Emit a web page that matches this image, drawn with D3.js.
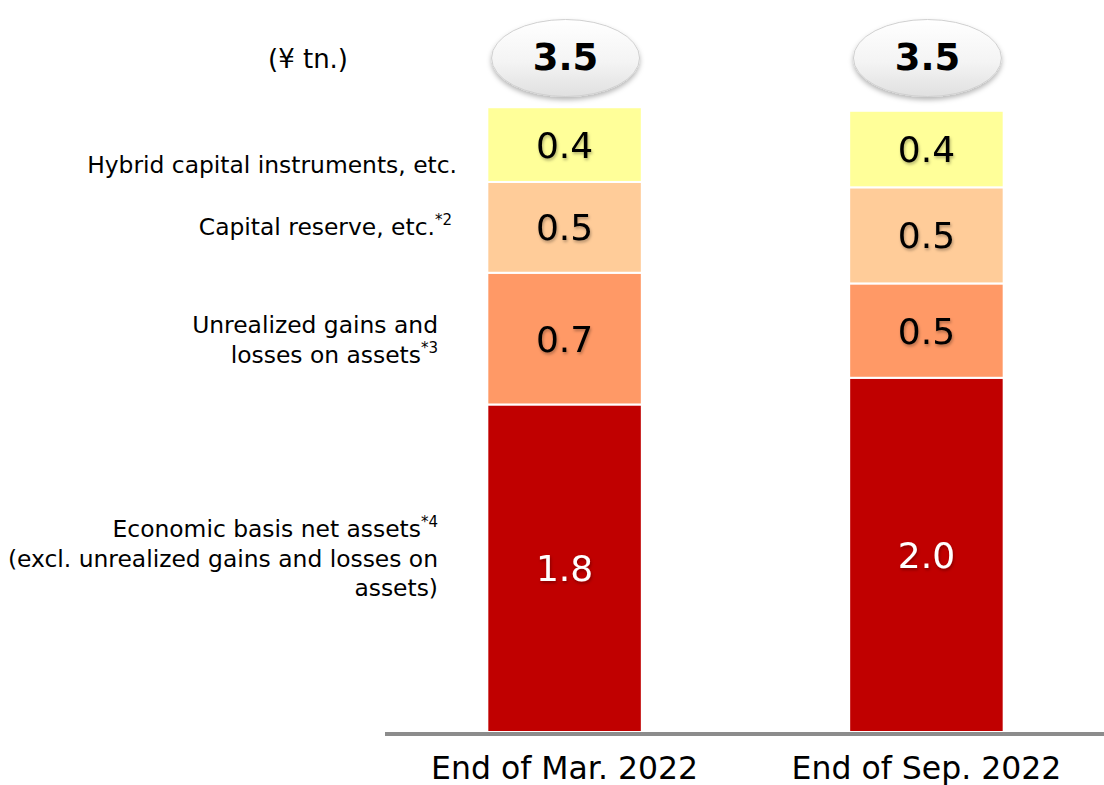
<!DOCTYPE html>
<html>
<head>
<meta charset="utf-8">
<script src="https://cdn.jsdelivr.net/npm/d3@7"></script>
<style>
  html, body { margin: 0; padding: 0; background: #fff; }
  svg { display: block; font-family: "DejaVu Sans", Verdana, sans-serif; }
</style>
</head>
<body>
<svg id="chart" width="1104" height="785"></svg>
<script>
// Capital breakdown, ¥ trillion
const categories = ["End of Mar. 2022", "End of Sep. 2022"];
const economicNetAssets = [1.84, 1.99];
const unrealizedGains = [0.74, 0.53];
const capitalReserve = [0.51, 0.54];
const hybridCapital = [0.42, 0.43];

const seriesKeys = ["economic", "unrealized", "reserve", "hybrid"];
const seriesColors = ["#C00000", "#FF9966", "#FFCC99", "#FFFF99"];
const seriesLabelColors = ["#ffffff", "#000000", "#000000", "#000000"];
const unitLabel = "(¥ tn.)";

// left-hand descriptions: lines and the footnote mark
const seriesNames = [
  { key: "hybrid", lines: ["Hybrid capital instruments, etc."], note: "" },
  { key: "reserve", lines: ["Capital reserve, etc."], note: "*2" },
  { key: "unrealized", lines: ["Unrealized gains and", "losses on assets"], note: "*3" },
  { key: "economic", lines: ["Economic basis net assets", "(excl. unrealized gains and losses on", "assets)"], note: "*4", noteLine: 0 }
];

const rows = categories.map((c, i) => ({
  category: c,
  economic: economicNetAssets[i],
  unrealized: unrealizedGains[i],
  reserve: capitalReserve[i],
  hybrid: hybridCapital[i]
}));

const svg = d3.select("#chart");
const defs = svg.append("defs");

const shadow = defs.append("filter").attr("id", "txtShadow")
  .attr("x", "-20%").attr("y", "-20%").attr("width", "140%").attr("height", "160%");
shadow.append("feDropShadow").attr("dx", 1).attr("dy", 2).attr("stdDeviation", 1.6)
  .attr("flood-color", "#000").attr("flood-opacity", 0.3);

const ovalShadow = defs.append("filter").attr("id", "ovalShadow")
  .attr("x", "-20%").attr("y", "-30%").attr("width", "140%").attr("height", "170%");
ovalShadow.append("feDropShadow").attr("dx", 0).attr("dy", 3).attr("stdDeviation", 2.5)
  .attr("flood-color", "#000").attr("flood-opacity", 0.28);

const grad = defs.append("linearGradient").attr("id", "ovalFill")
  .attr("x1", 0).attr("y1", 0).attr("x2", 0).attr("y2", 1);
grad.append("stop").attr("offset", "0%").attr("stop-color", "#ffffff");
grad.append("stop").attr("offset", "55%").attr("stop-color", "#f4f4f4");
grad.append("stop").attr("offset", "100%").attr("stop-color", "#e0e0e0");

const x = d3.scaleBand()
  .domain(categories)
  .range([386, 1105])
  .paddingInner(0.573)
  .paddingOuter(0.28);

const y = d3.scaleLinear()
  .domain([0, 3.5])
  .range([732, 109]);

const stack = d3.stack().keys(seriesKeys);
const stacked = stack(rows);
const fmt = d3.format(".1f");

// stacked segments
const layers = svg.append("g").selectAll("g")
  .data(stacked)
  .join("g")
  .attr("fill", (d, i) => seriesColors[i]);

layers.selectAll("rect")
  .data(d => d)
  .join("rect")
  .attr("x", d => x(d.data.category))
  .attr("width", x.bandwidth())
  .attr("y", d => y(d[1]))
  .attr("height", d => y(d[0]) - y(d[1]))
  .attr("stroke", "#ffffff")
  .attr("stroke-width", 2);

// segment values
stacked.forEach((layer, i) => {
  svg.append("g").selectAll("text")
    .data(layer)
    .join("text")
    .attr("x", d => x(d.data.category) + x.bandwidth() / 2)
    .attr("y", d => (y(d[0]) + y(d[1])) / 2)
    .attr("dy", "0.36em")
    .attr("text-anchor", "middle")
    .attr("font-size", 36)
    .attr("fill", seriesLabelColors[i])
    .attr("filter", "url(#txtShadow)")
    .text(d => fmt(d[1] - d[0]));
});

// baseline
svg.append("line")
  .attr("x1", 385).attr("x2", 1104)
  .attr("y1", y(0) + 2).attr("y2", y(0) + 2)
  .attr("stroke", "#8c8c8c")
  .attr("stroke-width", 4);

// category axis
const xAxis = svg.append("g")
  .attr("transform", `translate(0,${y(0) + 4})`)
  .call(d3.axisBottom(x).tickSize(0).tickPadding(21));
xAxis.select(".domain").remove();
xAxis.selectAll("text")
  .attr("font-size", 31.5)
  .attr("font-family", "DejaVu Sans, Verdana, sans-serif")
  .attr("fill", "#000");

// totals in ovals
const totals = rows.map(r => seriesKeys.reduce((s, k) => s + r[k], 0));
const totalG = svg.append("g").selectAll("g")
  .data(rows.map((r, i) => ({ category: r.category, total: totals[i] })))
  .join("g")
  .attr("transform", d => `translate(${x(d.category) + x.bandwidth() / 2 + 1},58)`);
totalG.append("ellipse")
  .attr("rx", 74).attr("ry", 38.5)
  .attr("fill", "url(#ovalFill)")
  .attr("stroke", "#d0d0d0")
  .attr("stroke-width", 1)
  .attr("filter", "url(#ovalShadow)");
totalG.append("text")
  .attr("text-anchor", "middle")
  .attr("y", 12)
  .attr("font-size", 37)
  .attr("font-weight", "bold")
  .attr("fill", "#000")
  .text(d => fmt(d.total));

// unit
svg.append("text")
  .attr("x", 308).attr("y", 68)
  .attr("text-anchor", "middle")
  .attr("font-size", 26)
  .text(unitLabel);

// series descriptions on the left
const namePos = {
  hybrid: { x: 457, y: 173 },
  reserve: { x: 452, y: 235 },
  unrealized: { x: 438, y: 333 },
  economic: { x: 438, y: 537 }
};
const lineGap = 29.5;
seriesNames.forEach(s => {
  const p = namePos[s.key];
  const noteLine = s.noteLine !== undefined ? s.noteLine : s.lines.length - 1;
  const t = svg.append("g");
  s.lines.forEach((ln, j) => {
    const txt = t.append("text")
      .attr("x", p.x)
      .attr("y", p.y + j * lineGap)
      .attr("text-anchor", "end")
      .attr("font-size", 23.4)
      .attr("fill", "#000");
    txt.append("tspan").text(ln);
    if (s.note && j === noteLine) {
      txt.append("tspan")
        .attr("dy", -10)
        .attr("font-size", 15)
        .text(s.note);
    }
  });
});
</script>
</body>
</html>
